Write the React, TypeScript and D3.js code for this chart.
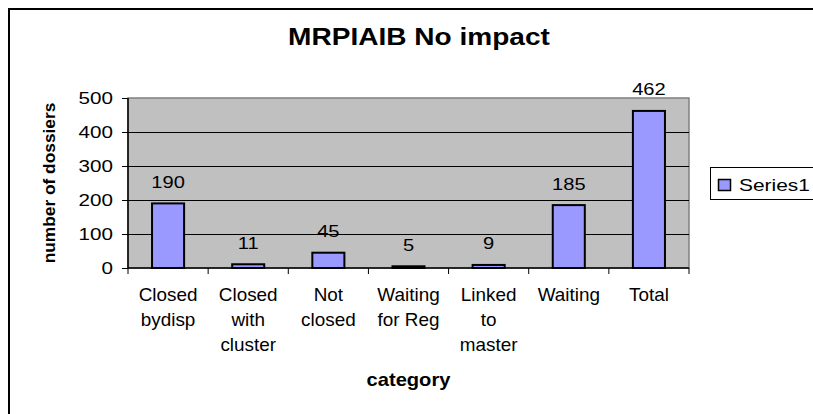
import React, { useRef, useEffect } from 'react';
import * as d3 from 'd3';

const categories = ['Closed bydisp', 'Closed with cluster', 'Not closed', 'Waiting for Reg', 'Linked to master', 'Waiting', 'Total'];
const categoryLines = [['Closed', 'bydisp'], ['Closed', 'with', 'cluster'], ['Not', 'closed'], ['Waiting', 'for Reg'], ['Linked', 'to', 'master'], ['Waiting'], ['Total']];
const series1 = [190, 11, 45, 5, 9, 185, 462];
const yTicks = [0, 100, 200, 300, 400, 500];
const seriesName = 'Series1';
const title = 'MRPIAIB No impact';
const xTitle = 'category';
const yTitle = 'number of dossiers';

const FONT = '"Liberation Sans", Arial, sans-serif';

const App = () => {
  const ref = useRef<SVGSVGElement>(null);

  useEffect(() => {
    document.body.style.margin = '0';
    const svg = d3.select(ref.current);
    svg.selectAll('*').remove();

    const plot = { left: 128, right: 689, top: 98, bottom: 268 };

    // outer chart border (cropped on right / bottom)
    svg.append('rect')
      .attr('x', 9).attr('y', 9)
      .attr('width', 900).attr('height', 500)
      .attr('fill', '#fff').attr('stroke', '#000').attr('stroke-width', 2);

    const x = d3.scaleBand()
      .domain(categories)
      .range([plot.left, plot.right])
      .paddingInner(0.6)
      .paddingOuter(0.3);

    const y = d3.scaleLinear().domain([0, 500]).range([plot.bottom, plot.top]);

    // plot area
    svg.append('rect')
      .attr('x', plot.left).attr('y', plot.top)
      .attr('width', plot.right - plot.left).attr('height', plot.bottom - plot.top)
      .attr('fill', '#c0c0c0').attr('stroke', '#808080').attr('stroke-width', 1.5);

    // gridlines
    svg.append('g')
      .selectAll('line')
      .data(yTicks.filter((t) => t > 0 && t < 500))
      .join('line')
      .attr('x1', plot.left).attr('x2', plot.right)
      .attr('y1', (d) => y(d) + 0.5).attr('y2', (d) => y(d) + 0.5)
      .attr('stroke', '#000').attr('stroke-width', 1);

    // bars
    svg.append('g')
      .selectAll('rect')
      .data(series1)
      .join('rect')
      .attr('x', (d, i) => x(categories[i])!)
      .attr('y', (d) => y(d))
      .attr('width', x.bandwidth())
      .attr('height', (d) => y(0) - y(d))
      .attr('fill', '#9999ff')
      .attr('stroke', '#000')
      .attr('stroke-width', 2);

    // data labels
    svg.append('g')
      .selectAll('text')
      .data(series1)
      .join('text')
      .attr('transform', (d, i) => `translate(${x(categories[i])! + x.bandwidth() / 2},${y(d) - 15.5}) scale(1.22,1)`)
      .attr('text-anchor', 'middle')
      .attr('font-family', FONT)
      .attr('font-size', 16.5)
      .text((d) => d);

    // y axis
    const yAxis = svg.append('g').attr('transform', `translate(${plot.left},0)`)
      .call(d3.axisLeft(y).tickValues(yTicks).tickSize(6).tickFormat(() => ''));
    yAxis.select('.domain').attr('stroke', '#000').attr('stroke-width', 1.5).attr('d', `M0,${plot.top}V${plot.bottom}`);
    yAxis.selectAll('.tick line').attr('stroke', '#000');

    svg.append('g')
      .selectAll('text')
      .data(yTicks)
      .join('text')
      .attr('transform', (d) => `translate(113,${y(d) + 6}) scale(1.25,1)`)
      .attr('text-anchor', 'end')
      .attr('font-family', FONT)
      .attr('font-size', 16.5)
      .text((d) => d);

    // x axis, ticks sit between categories
    svg.append('line')
      .attr('x1', plot.left).attr('x2', plot.right)
      .attr('y1', plot.bottom).attr('y2', plot.bottom)
      .attr('stroke', '#000').attr('stroke-width', 1.5);
    const bounds = d3.range(categories.length + 1)
      .map((i) => x.range()[0] + i * (x.range()[1] - x.range()[0]) / categories.length);
    svg.append('g')
      .selectAll('line')
      .data(bounds)
      .join('line')
      .attr('x1', (d) => d).attr('x2', (d) => d)
      .attr('y1', plot.bottom).attr('y2', plot.bottom + 6)
      .attr('stroke', '#000').attr('stroke-width', 1);

    // category labels
    const lab = svg.append('g');
    categoryLines.forEach((lines, i) => {
      const cx = x(categories[i])! + x.bandwidth() / 2;
      lines.forEach((t, j) => {
        lab.append('text')
          .attr('transform', `translate(${cx},${300.5 + j * 25}) scale(1.08,1)`)
          .attr('text-anchor', 'middle')
          .attr('font-family', FONT)
          .attr('font-size', 17.5)
          .text(t);
      });
    });

    // axis titles
    svg.append('text')
      .attr('transform', `translate(${(plot.left + plot.right) / 2},386) scale(1.15,1)`)
      .attr('text-anchor', 'middle')
      .attr('font-family', FONT)
      .attr('font-weight', 'bold')
      .attr('font-size', 17.5)
      .text(xTitle);

    svg.append('text')
      .attr('transform', `translate(55,${(plot.top + plot.bottom) / 2}) rotate(-90) scale(1.05,1)`)
      .attr('text-anchor', 'middle')
      .attr('font-family', FONT)
      .attr('font-weight', 'bold')
      .attr('font-size', 16.5)
      .text(yTitle);

    // title
    svg.append('text')
      .attr('transform', 'translate(419,45) scale(1.22,1)')
      .attr('text-anchor', 'middle')
      .attr('font-family', FONT)
      .attr('font-weight', 'bold')
      .attr('font-size', 23)
      .text(title);

    // legend
    const lg = svg.append('g');
    lg.append('rect')
      .attr('x', 710.5).attr('y', 167.5)
      .attr('width', 130).attr('height', 32)
      .attr('fill', '#fff').attr('stroke', '#000').attr('stroke-width', 1);
    lg.append('rect')
      .attr('x', 718.5).attr('y', 179.5)
      .attr('width', 12).attr('height', 11)
      .attr('fill', '#9999ff').attr('stroke', '#000').attr('stroke-width', 1.5);
    lg.append('text')
      .attr('transform', 'translate(739,191) scale(1.23,1)')
      .attr('font-family', FONT)
      .attr('font-size', 17)
      .text(seriesName);
  }, []);

  return <svg ref={ref} width={813} height={414} style={{ display: 'block' }}></svg>;
};

export default App;
